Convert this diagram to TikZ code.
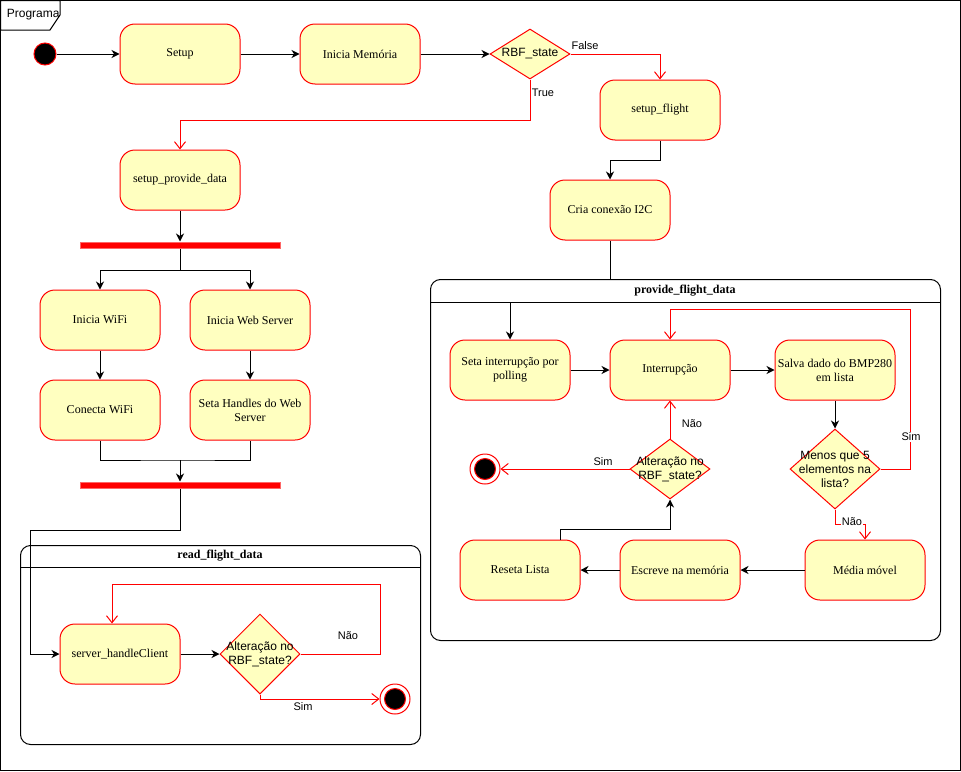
\documentclass[tikz,border=0pt]{standalone}
\usepackage{fontspec}
\setmainfont{Liberation Serif}
\setsansfont{Liberation Sans}
\usetikzlibrary{arrows.meta,shapes.geometric,calc}
\definecolor{yfill}{HTML}{FFFFC0}
\begin{document}
\begin{tikzpicture}[x=1pt,y=-1pt,line width=1pt,
  act/.style={draw=red, fill=yfill, rounded corners=15pt, minimum width=120pt, minimum height=60pt, inner sep=0pt, align=center, font=\fontsize{12}{14}\selectfont},
  dec/.style={diamond, draw=red, fill=yfill, inner sep=0pt},
  dtext/.style={font=\sffamily\fontsize{12}{14}\selectfont, align=center},
  lbl/.style={font=\sffamily\fontsize{11}{13}\selectfont, inner sep=1pt},
  bar/.style={draw=red!60, fill=red, minimum width=200pt, minimum height=6pt, inner sep=0pt},
  blk/.style={draw=black, -{Stealth[length=8pt,width=8pt,inset=2.5pt]}},
  redo/.style={draw=red, -{Straight Barb[length=7pt,width=11pt]}},
  cont/.style={draw=black, rounded corners=10pt, inner sep=0pt, anchor=north west},
  ttl/.style={font=\bfseries\fontsize{12}{14}\selectfont}
]
\useasboundingbox (0,0) rectangle (961,771);
% outer frame
\draw[black] (0.5,0.5) rectangle (960,770);
\draw[black, fill=white] (0.5,0.5) -- (60,0.5) -- (60,15) -- (50,30) -- (0.5,30) -- cycle;
\node[font=\sffamily\fontsize{12}{14}\selectfont, anchor=west] (prog) at (3,15) {Programa};

% top row
\node[circle, draw=red, fill=black, minimum size=22pt, inner sep=0pt] (start) at (45,54) {};
\node[act] (setup) at (180,54) {Setup};
\node[act] (mem) at (360,54) {Inicia Memória};
\node[dec, minimum width=80pt, minimum height=50pt] (rbf) at (530,54) {};
\node[dtext] at (rbf.center) {RBF\_state};
\node[act] (sflight) at (660,110) {setup\_flight};
\node[act] (spd) at (180,180) {setup\_provide\_data};
\node[act] (i2c) at (610,210) {Cria conexão I2C};

\draw[blk] (start) -- (setup);
\draw[blk] (setup) -- (mem);
\draw[blk] (mem) -- (rbf.west);
\draw[redo] (rbf.east) -| (sflight.north);
\node[lbl] (lfalse) at (585,46) {False};
\draw[redo] (rbf.south) -- (530,120) -| (spd.north);
\node[lbl] (ltrue) at (543,93) {True};
\draw[blk] (sflight.south) -- (660,160) -| (i2c.north);

% left branch
\node[bar] (bar1) at (180,245) {};
\node[act] (wifi) at (100,320) {Inicia WiFi};
\node[act] (web) at (250,320) {Inicia Web Server};
\node[act] (conecta) at (100,410) {Conecta WiFi};
\node[act] (handles) at (250,410) {Seta Handles do Web\\Server};
\node[bar] (bar2) at (180,485) {};
\draw[blk] (spd) -- (bar1);
\coordinate (f1) at (180,270);
\draw (bar1.south) -- (f1);
\draw[blk] (f1) -| (wifi.north);
\draw[blk] (f1) -| (web.north);
\draw[blk] (wifi) -- (conecta);
\draw[blk] (web) -- (handles);
\coordinate (j1) at (180,460);
\draw (conecta.south) |- (j1) -| (handles.south);
\draw[blk] (j1) -- (bar2.north);

% read_flight_data container
\node[cont, minimum width=400pt, minimum height=199pt] (rfd) at (20,545) {};
\draw (20,567) -- (420,567);
\node[ttl] (rfdt) at (220,556) {read\_flight\_data};
\node[act] (shc) at (120,654) {server\_handleClient};
\node[dec, minimum width=80pt, minimum height=80pt] (alt1) at (260,654) {};
\node[dtext] at (alt1.center) {Alteração no\\RBF\_state?};
\node[circle, draw=red, fill=white, minimum size=30pt, inner sep=0pt] (end1) at (395,699) {};
\node[circle, draw=red, fill=black, minimum size=21pt, inner sep=0pt] (end1i) at (end1.center) {};
\draw[blk] (bar2.south) |- (30,530) |- (shc.west);
\draw[blk] (shc) -- (alt1.west);
\draw[redo] (alt1.east) -| (380,584) -| ([xshift=-8pt]shc.north);
\node[lbl] (lnao1) at (348,636) {Não};
\draw[redo] (alt1.south) |- (end1.west);
\node[lbl] (lsim1) at (303,707) {Sim};

% provide_flight_data container
\node[cont, minimum width=510pt, minimum height=361pt] (pfd) at (430,279) {};
\draw (430,302) -- (940,302);
\node[ttl] (pfdt) at (685,291) {provide\_flight\_data};
\draw (i2c.south) -- (i2c.south |- pfd.north);
\node[act] (seta) at (510,370) {Seta interrupção por\\polling};
\node[act] (intr) at (670,370) {Interrupção};
\node[act] (salva) at (835,370) {Salva dado do BMP280\\em lista};
\node[dec, minimum width=90pt, minimum height=80pt] (menos) at (835,469) {};
\node[dtext] at (menos.center) {Menos que 5\\elementos na\\lista?};
\node[act] (media) at (865,570) {Média móvel};
\node[act] (escreve) at (680,570) {Escreve na memória};
\node[act] (reseta) at (520,570) {Reseta Lista};
\node[dec, minimum width=80pt, minimum height=60pt] (alt2) at (670,469) {};
\node[dtext] at (alt2.center) {Alteração no\\RBF\_state?};
\node[circle, draw=red, fill=white, minimum size=30pt, inner sep=0pt] (end2) at (485,469) {};
\node[circle, draw=red, fill=black, minimum size=21pt, inner sep=0pt] (end2i) at (end2.center) {};

\coordinate (h1) at (510,302);
\draw[blk] (h1) -- (seta.north);
\draw[blk] (seta) -- (intr);
\draw[blk] (intr) -- (salva);
\draw[blk] (salva) -- (menos.north);
\draw[redo] (menos.east) -| (910,309) -| (intr.north);
\node[lbl, fill=white] (lsim2) at (911,437) {Sim};
\draw[redo] (menos.south) -- (835,524) -| (media.north);
\node[lbl, fill=white, inner sep=0.5pt] (lnao2) at (852,522) {Não};
\draw[blk] (media) -- (escreve);
\draw[blk] (escreve) -- (reseta);
\draw[blk] ([xshift=40pt]reseta.north) |- (670,529) -- (alt2.south);
\draw[redo] (alt2.north) -- (intr.south);
\node[lbl] (lnao3) at (692,424) {Não};
\draw[redo] (alt2.west) -- (end2.east);
\node[lbl, fill=white] (lsim3) at (603,462) {Sim};
\end{tikzpicture}
\end{document}
